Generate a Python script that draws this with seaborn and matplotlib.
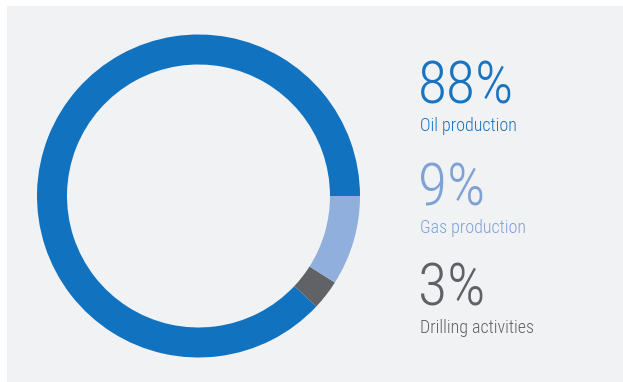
import matplotlib
matplotlib.use("Agg")
import matplotlib.pyplot as plt
from matplotlib.patches import Rectangle
import seaborn as sns

# data
categories = ["Oil production", "Drilling activities", "Gas production"]
shares = [88, 3, 9]
pct_labels = ["88%", "3%", "9%"]

sns.set_theme(style="white")
colors = ["#1172bf", "#616265", "#90afdc"]
text_colors = ["#1a73c0", "#5f6166", "#7fa2d6"]
plt.rcParams['font.family'] = ['Roboto Condensed', 'Open Sans Condensed', 'Liberation Sans Narrow', 'Roboto', 'DejaVu Sans']

W, H = 623, 382
fig = plt.figure(figsize=(W / 100, H / 100), dpi=100, facecolor="white")
ax = fig.add_axes([0, 0, 1, 1])
ax.add_patch(Rectangle((7, 0), W - 7, H - 6, facecolor="#f1f2f4", edgecolor="none", zorder=0))

ax.pie(shares, colors=colors, startangle=0, counterclock=True,
       center=(198.5, H - 196), radius=161.5,
       wedgeprops=dict(width=30, edgecolor="none", linewidth=0))
ax.set_xlim(0, W)
ax.set_ylim(0, H)
ax.set_aspect("equal")
ax.axis("off")

# legend texts in order Oil, Gas, Drilling
order = [0, 2, 1]
big_base = [103, 206, 306]
small_base = [131, 233, 333]
for k, i in enumerate(order):
    ax.text(418, H - big_base[k], pct_labels[i], color=text_colors[i],
            fontsize=43, fontweight="light", fontstretch="condensed",
            va="baseline", ha="left")
    ax.text(420, H - small_base[k], categories[i], color=text_colors[i],
            fontsize=13, fontweight="light", fontstretch="condensed",
            va="baseline", ha="left")

fig.savefig("out.png", dpi=100, facecolor="white")
